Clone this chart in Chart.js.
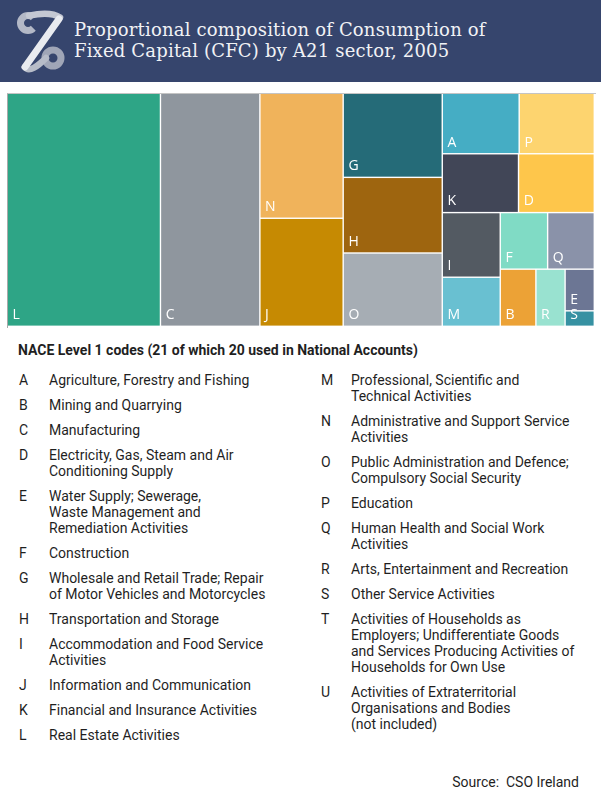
<!DOCTYPE html>
<html>
<head>
<meta charset="utf-8">
<title>Consumption of Fixed Capital by A21 sector, 2005</title>
<script src="https://cdn.jsdelivr.net/npm/chart.js@4.4.1/dist/chart.umd.min.js"></script>
<style>
  html, body { margin: 0; padding: 0; background: #fff; }
  body { width: 601px; height: 800px; position: relative; overflow: hidden;
         font-family: Roboto, "Noto Sans", sans-serif; color: #1f1f1f; }
  .banner { position: absolute; left: 0; top: 0; width: 601px; height: 82px; background: #36456d; }
  .banner svg { position: absolute; left: 0; top: 0; }
  .title { position: absolute; left: 74px; top: 18.5px; font-family: "DejaVu Serif", serif;
           font-size: 18px; letter-spacing: 0.18px; line-height: 21.5px; color: #f1f2f5; white-space: nowrap; }
  .frame { position: absolute; left: 7px; top: 93px; width: 588px; height: 234px;
           border-top: 1px solid #c4c4c4; border-left: 1px solid #a9a9a9; }
  .chart-box { position: absolute; left: 8px; top: 94px; width: 587px; height: 233px; }
  .codes-head { position: absolute; left: 18px; top: 342px; font-size: 14px; line-height: 16px;
                font-weight: 700; white-space: nowrap; }
  .col { position: absolute; top: 371.7px; }
  .col.left { left: 19px; }
  .col.right { left: 321px; }
  .item { display: flex; font-size: 14px; line-height: 16px; margin-bottom: 9px; white-space: pre; }
  .item .code { width: 30px; flex: none; }
  .source { position: absolute; right: 22px; top: 774px; font-size: 14px; line-height: 16px; white-space: pre; }
</style>
</head>
<body>
<div class="banner">
  <svg width="80" height="82" viewBox="0 0 80 82">
    <path d="M33.3 17.7 A7.5 7.5 0 1 0 33.3 28.3" stroke="#b3b8c6" stroke-width="7" fill="none"/>
    <path d="M29 15.6 C41 13, 52 12, 60 17.5" stroke="#c4c8d3" stroke-width="6.5" fill="none" stroke-linecap="round"/>
    <circle cx="53" cy="58" r="8" stroke="#a0a6b7" stroke-width="7" fill="none"/>
    <path d="M25 67 C29 73, 38 66, 46 58" stroke="#b7bcc8" stroke-width="6.5" fill="none" stroke-linecap="round"/>
    <path d="M59 19 L25 67" stroke="#e9ebf0" stroke-width="7" stroke-linecap="round"/>
  </svg>
  <div class="title">Proportional composition of Consumption of<br>Fixed Capital (CFC) by A21 sector, 2005</div>
</div>
<div class="frame"></div>
<div class="chart-box"><canvas id="cfcTreemap"></canvas></div>
<div class="codes-head">NACE Level 1 codes (21 of which 20 used in National Accounts)</div>
<div class="col left" id="colLeft"></div>
<div class="col right" id="colRight"></div>
<div class="source">Source:  CSO Ireland</div>

<script>
// sectors shown in the treemap (T and U are not used)
const sectorCodes = ['A', 'B', 'C', 'D', 'E', 'F', 'G', 'H', 'I', 'J', 'K', 'L', 'M', 'N', 'O', 'P', 'Q', 'R', 'S'];
// share of total CFC in %, estimated from the tile areas
const cfcShare = [3.40, 1.49, 16.94, 3.26, 0.89, 1.96, 6.09, 5.48, 2.74, 6.58, 3.28, 26.09, 2.08, 7.61, 5.31, 3.32, 1.93, 1.22, 0.33];
const tileColours = ['#45adc4', '#eca236', '#8f969e', '#fec64b', '#6c7694', '#80dbc5', '#256b78', '#9e650f',
  '#535a62', '#c68a02', '#414657', '#2ea586', '#69c0d1', '#f0b35b', '#a6adb4', '#fdd46f', '#8a92a9', '#99e2d0', '#3691a2'];

// key below the chart
const naceCodes = ['A', 'B', 'C', 'D', 'E', 'F', 'G', 'H', 'I', 'J', 'K', 'L', 'M', 'N', 'O', 'P', 'Q', 'R', 'S', 'T', 'U'];
const naceNames = [
  'Agriculture, Forestry and Fishing',
  'Mining and Quarrying',
  'Manufacturing',
  'Electricity, Gas, Steam and Air\nConditioning Supply',
  'Water Supply; Sewerage,\nWaste Management and\nRemediation Activities',
  'Construction',
  'Wholesale and Retail Trade; Repair\nof Motor Vehicles and Motorcycles',
  'Transportation and Storage',
  'Accommodation and Food Service\nActivities',
  'Information and Communication',
  'Financial and Insurance Activities',
  'Real Estate Activities',
  'Professional, Scientific and\nTechnical Activities',
  'Administrative and Support Service\nActivities',
  'Public Administration and Defence;\nCompulsory Social Security',
  'Education',
  'Human Health and Social Work\nActivities',
  'Arts, Entertainment and Recreation',
  'Other Service Activities',
  'Activities of Households as\nEmployers; Undifferentiate Goods\nand Services Producing Activities of\nHouseholds for Own Use',
  'Activities of Extraterritorial\nOrganisations and Bodies\n(not included)'
];

naceCodes.forEach((code, i) => {
  const row = document.createElement('div');
  row.className = 'item';
  const c = document.createElement('span');
  c.className = 'code';
  c.textContent = code;
  const t = document.createElement('span');
  t.textContent = naceNames[i];
  row.appendChild(c);
  row.appendChild(t);
  document.getElementById(i < 12 ? 'colLeft' : 'colRight').appendChild(row);
});

// squarified layout, rows laid along the short side; ratio > 1 favours slightly tall tiles
function tileCost(w, h, ratio) {
  return Math.max(h / w / ratio, ratio * w / h);
}
function rowCost(row, sum, side, vertical, ratio) {
  const thick = sum / side;
  let worst = 0;
  row.forEach(it => {
    const len = it.v / thick;
    const c = vertical ? tileCost(thick, len, ratio) : tileCost(len, thick, ratio);
    if (c > worst) worst = c;
  });
  return worst;
}
function squarify(items, x, y, w, h, ratio) {
  const out = [];
  let i = 0;
  while (i < items.length) {
    const vertical = w >= h;
    const side = vertical ? h : w;
    let row = [items[i]];
    let sum = items[i].v;
    let best = rowCost(row, sum, side, vertical, ratio);
    let j = i + 1;
    while (j < items.length) {
      const nextRow = row.concat(items[j]);
      const c = rowCost(nextRow, sum + items[j].v, side, vertical, ratio);
      if (c > best) break;
      row = nextRow; sum += items[j].v; best = c; j++;
    }
    const thick = sum / side;
    let off = 0;
    row.forEach(it => {
      const len = it.v / thick;
      if (vertical) out.push({ i: it.i, x: x, y: y + off, w: thick, h: len });
      else out.push({ i: it.i, x: x + off, y: y, w: len, h: thick });
      off += len;
    });
    if (vertical) { x += thick; w -= thick; } else { y += thick; h -= thick; }
    i = j;
  }
  return out;
}

class TileElement extends Chart.Element {
  static id = 'tile';
  static defaults = {};

  draw(ctx) {
    const { x, y, width, height, options } = this;
    ctx.save();
    ctx.fillStyle = options.backgroundColor;
    ctx.fillRect(x, y, width, height);
    ctx.fillStyle = options.labelColor;
    ctx.font = options.labelFont;
    ctx.textBaseline = 'alphabetic';
    ctx.fillText(options.label, x + 4.5, y + height - 6.5);
    ctx.restore();
  }
  inRange(mx, my) {
    return mx >= this.x && mx <= this.x + this.width && my >= this.y && my <= this.y + this.height;
  }
  getCenterPoint() {
    return { x: this.x + this.width / 2, y: this.y + this.height / 2 };
  }
}

class TreemapController extends Chart.DatasetController {
  static id = 'treemap';
  static defaults = { datasetElementType: false, dataElementType: 'tile' };

  update(mode) {
    const meta = this._cachedMeta;
    const ds = this.getDataset();
    const xs = meta.xScale, ys = meta.yScale;
    // pixel extent is only used so the layout knows the true aspect
    const W = xs.width, H = ys.height;
    const total = ds.data.reduce((a, b) => a + b, 0);
    const items = ds.data.map((v, i) => ({ i: i, v: v / total * W * H }))
      .sort((a, b) => b.v - a.v);
    const cells = squarify(items, 0, 0, W, H, ds.tileRatio);
    const gap = ds.tileGap;
    cells.forEach(c => {
      const x0 = xs.getPixelForValue(c.x / W * 100);
      const x1 = xs.getPixelForValue((c.x + c.w) / W * 100);
      const y0 = ys.getPixelForValue(c.y / H * 100);
      const y1 = ys.getPixelForValue((c.y + c.h) / H * 100);
      const el = meta.data[c.i];
      el.x = x0;
      el.y = y0;
      el.width = x1 - x0 - gap;
      el.height = y1 - y0 - gap;
      el.options = {
        backgroundColor: ds.backgroundColor[c.i],
        label: ds.tileLabels[c.i],
        labelColor: '#ffffff',
        labelFont: '14px "Open Sans", sans-serif'
      };
    });
  }
}

Chart.register(TileElement, TreemapController);

new Chart(document.getElementById('cfcTreemap'), {
  type: 'treemap',
  data: {
    datasets: [{
      label: 'CFC share (%)',
      data: cfcShare,
      tileLabels: sectorCodes,
      backgroundColor: tileColours,
      tileRatio: 1.12,
      tileGap: 1.4
    }]
  },
  options: {
    responsive: true,
    maintainAspectRatio: false,
    animation: false,
    events: [],
    layout: { padding: 0 },
    scales: {
      x: { type: 'linear', min: 0, max: 100, display: false },
      y: { type: 'linear', min: 0, max: 100, reverse: true, display: false }
    },
    plugins: {
      legend: { display: false },
      tooltip: { enabled: false }
    }
  }
});
</script>
</body>
</html>
